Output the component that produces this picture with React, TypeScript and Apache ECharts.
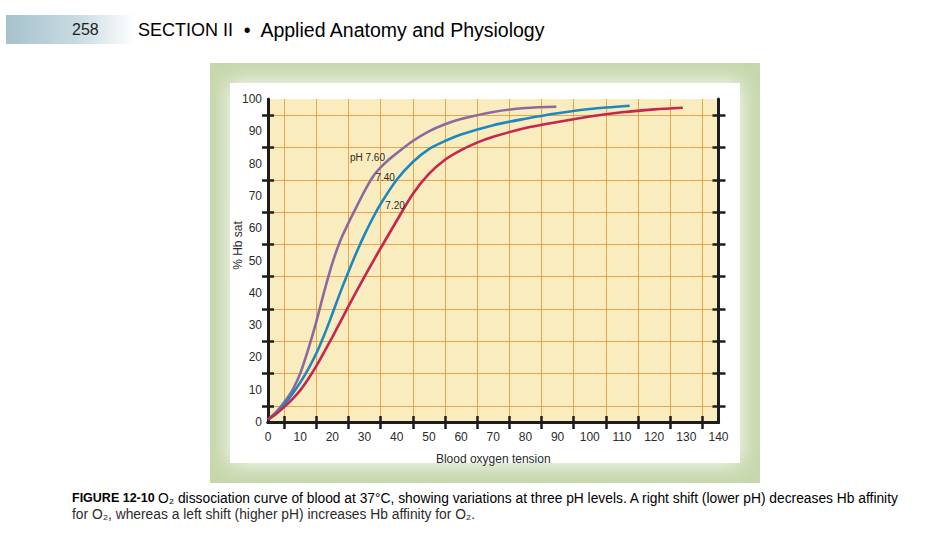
import React, { useEffect, useRef } from "react";
import * as echarts from "echarts";

// ---- data ----
const xTickLabels = [0, 10, 20, 30, 40, 50, 60, 70, 80, 90, 100, 110, 120, 130, 140];
const xTickMarks = [5, 15, 25, 35, 45, 55, 65, 75, 85, 95, 105, 115, 125, 135];
const yTickMarks = [5, 15, 25, 35, 45, 55, 65, 75, 85, 95];

const seriesNames = ["pH 7.60", "pH 7.40", "pH 7.20"];

const ph760: [number, number][] = [
  [0, 0.8], [3, 3.6], [6, 7.4], [8, 10.6], [10, 15], [12.5, 22.5], [15, 31], [17.5, 40.5],
  [20, 49.2], [22.5, 56.2], [25, 61.6], [27.5, 66.6], [30, 71.5], [32.5, 75.8], [35, 78.8],
  [37.5, 81.2], [40, 83.2], [45, 87], [50, 90], [55, 92.2], [60, 93.8], [70, 96], [80, 97.2],
  [89.6, 97.6],
];
const ph740: [number, number][] = [
  [0, 0.8], [2.5, 2.6], [5, 5.4], [7.5, 8.6], [10, 12.2], [12.5, 16.4], [15, 21.2], [17.5, 27],
  [20, 33.5], [22.5, 40.2], [25, 46.5], [27.5, 52.5], [30, 58], [32.5, 63], [35, 67.5],
  [40, 75], [45, 80.5], [50, 84.5], [55, 87], [60, 89], [70, 91.9], [80, 93.9], [90, 95.6],
  [100, 96.9], [112.4, 97.9],
];
const ph720: [number, number][] = [
  [0, 0.8], [2.5, 2.5], [5, 4.6], [7.5, 7], [10, 9.8], [12.5, 13.3], [15, 17.3], [17.5, 21.7],
  [20, 26.3], [22.5, 31], [25, 35.8], [30, 45], [35, 53.8], [40, 62.3], [45, 70.6],
  [50, 76.8], [55, 81.2], [60, 84.2], [65, 86.5], [70, 88.3], [80, 91], [90, 92.9],
  [100, 94.6], [110, 95.9], [120, 96.8], [128.9, 97.3],
];

const curveLabels = ["pH 7.60", "7.40", "7.20"];
const curveLabelX = [30.9, 36.4, 39.5];
const curveLabelY = [82.0, 75.7, 66.9];

const header = { page: "258", section: "SECTION II", title: "Applied Anatomy and Physiology" };
const captionFigure = "FIGURE 12-10";
const captionLine1 =
  "O₂ dissociation curve of blood at 37°C, showing variations at three pH levels. A right shift (lower pH) decreases Hb affinity";
const captionLine2 = "for O₂, whereas a left shift (higher pH) increases Hb affinity for O₂.";

const PURPLE = "#8c6a9e";
const BLUE = "#1d88c0";
const RED = "#c6254f";
const AXIS = "#1e1c1c";
const GRIDLINE = "#eba44c";
const MAGENTA = "#8a2a6c";
const FONT = "'Liberation Sans', Arial, sans-serif";

export default function App() {
  const ref = useRef<HTMLDivElement>(null);
  useEffect(() => {
    if (!ref.current) return;
    const chart = echarts.init(ref.current, undefined, { renderer: "svg" });
    const axisLineStyle = { color: AXIS, width: 3 };
    const tickStyle = { color: AXIS, width: 2.5 };
    const baseX = { type: "value", min: 0, max: 140, interval: 10, gridIndex: 0 };
    const baseY = { type: "value", min: 0, max: 100, interval: 10, gridIndex: 0 };
    const mk = (data: [number, number][], color: string, name: string) => ({
      type: "line",
      name,
      data,
      smooth: 0.3,
      symbol: "none",
      showSymbol: false,
      lineStyle: { color, width: 2.6 },
      itemStyle: { color },
      z: 3,
    });
    const s1: any = mk(ph760, PURPLE, seriesNames[0]);
    s1.markPoint = {
      symbol: "circle",
      symbolSize: 0,
      silent: true,
      data: curveLabels.map((t, i) => ({
        coord: [curveLabelX[i], curveLabelY[i]],
        value: t,
        label: {
          show: true,
          position: "inside",
          formatter: t,
          fontSize: 10,
          fontFamily: FONT,
          color: "#2a2a2a",
        },
      })),
    };
    chart.setOption({
      animation: false,
      backgroundColor: "#ffffff",
      grid: {
        left: 268,
        top: 99,
        width: 450.5,
        height: 323,
        show: true,
        backgroundColor: "#f9ecbf",
        borderWidth: 0,
        containLabel: false,
      },
      xAxis: [
        {
          ...baseX,
          position: "bottom",
          axisLine: { show: true, lineStyle: axisLineStyle },
          axisTick: { show: true, customValues: xTickMarks, length: 7, lineStyle: tickStyle },
          axisLabel: {
            show: true,
            customValues: xTickLabels,
            margin: 9,
            fontSize: 12,
            color: "#2b2b2b",
            fontFamily: FONT,
          },
          splitLine: { show: true, lineStyle: { color: GRIDLINE, width: 1 } },
          name: "Blood oxygen tension",
          nameLocation: "middle",
          nameGap: 31,
          nameTextStyle: { fontSize: 12, color: "#2b2b2b", fontFamily: FONT },
        },
        {
          ...baseX,
          position: "top",
          axisLine: { show: true, lineStyle: axisLineStyle },
          axisTick: { show: true, customValues: xTickMarks, length: 6, lineStyle: tickStyle },
          axisLabel: { show: false },
          splitLine: { show: false },
        },
      ],
      yAxis: [
        {
          ...baseY,
          position: "left",
          axisLine: { show: true, lineStyle: axisLineStyle },
          axisTick: { show: true, customValues: yTickMarks, length: 6, lineStyle: tickStyle },
          axisLabel: { show: true, margin: 6, fontSize: 12, color: "#2b2b2b", fontFamily: FONT },
          splitLine: { show: true, lineStyle: { color: GRIDLINE, width: 1 } },
        },
        {
          ...baseY,
          position: "left",
          axisLine: { show: false },
          axisTick: { show: true, inside: true, customValues: yTickMarks, length: 6, lineStyle: tickStyle },
          axisLabel: { show: false },
          splitLine: { show: false },
        },
        {
          ...baseY,
          position: "right",
          axisLine: { show: true, lineStyle: axisLineStyle },
          axisTick: { show: true, customValues: yTickMarks, length: 7, lineStyle: tickStyle },
          axisLabel: { show: false },
          splitLine: { show: false },
        },
        {
          ...baseY,
          position: "right",
          axisLine: { show: false },
          axisTick: { show: true, inside: true, customValues: yTickMarks, length: 6, lineStyle: tickStyle },
          axisLabel: { show: false },
          splitLine: { show: false },
        },
      ],
      graphic: [
        {
          type: "rect",
          z: -10,
          shape: { x: 210, y: 63, width: 550, height: 420 },
          style: { fill: "#c6d7ac" },
          silent: true,
        },
        {
          type: "rect",
          z: -9,
          shape: { x: 230, y: 83, width: 510, height: 380 },
          style: { fill: "#ffffff", shadowBlur: 22, shadowColor: "#ffffff" },
          silent: true,
        },
        {
          type: "rect",
          z: -8,
          shape: { x: 6, y: 15, width: 130, height: 29 },
          style: {
            fill: new echarts.graphic.LinearGradient(0, 0, 1, 0, [
              { offset: 0, color: "#a6c2cd" },
              { offset: 0.55, color: "#c9dbe2" },
              { offset: 1, color: "rgba(255,255,255,1)" },
            ]),
          },
          silent: true,
        },
        {
          type: "text",
          x: 72,
          y: 29.5,
          style: {
            text: header.page,
            fontSize: 16,
            fontFamily: FONT,
            fill: "#231f20",
            verticalAlign: "middle",
          },
        },
        {
          type: "text",
          x: 138,
          y: 29.5,
          style: {
            text: `{a|${header.section}}{b|  •  ${header.title}}`,
            fontSize: 18,
            fontFamily: FONT,
            verticalAlign: "middle",
            rich: {
              a: { fontSize: 18, fontFamily: FONT, color: "#231f20" },
              b: { fontSize: 19.5, fontFamily: FONT, color: MAGENTA },
            },
          },
        },
        {
          type: "text",
          x: 238,
          y: 245.5,
          rotation: Math.PI / 2,
          style: {
            text: "% Hb sat",
            fontSize: 12,
            fontFamily: FONT,
            fill: "#2b2b2b",
            align: "center",
            verticalAlign: "middle",
          },
        },
        {
          type: "text",
          x: 72,
          y: 498,
          style: {
            text: `{f|${captionFigure}} {t|${captionLine1}}`,
            verticalAlign: "middle",
            rich: {
              f: { fontSize: 12.5, fontFamily: FONT, color: MAGENTA, fontWeight: "bold" },
              t: { fontSize: 13.8, fontFamily: FONT, color: "#2b2b2b" },
            },
          },
        },
        {
          type: "text",
          x: 72,
          y: 514,
          style: {
            text: captionLine2,
            fontSize: 13.8,
            fontFamily: FONT,
            fill: "#2b2b2b",
            verticalAlign: "middle",
          },
        },
      ],
      series: [s1, mk(ph740, BLUE, seriesNames[1]), mk(ph720, RED, seriesNames[2])],
    });
    return () => chart.dispose();
  }, []);
  return (
    <div
      ref={ref}
      style={{ position: "fixed", left: 0, top: 0, width: 932, height: 535 }}
    />
  );
}
